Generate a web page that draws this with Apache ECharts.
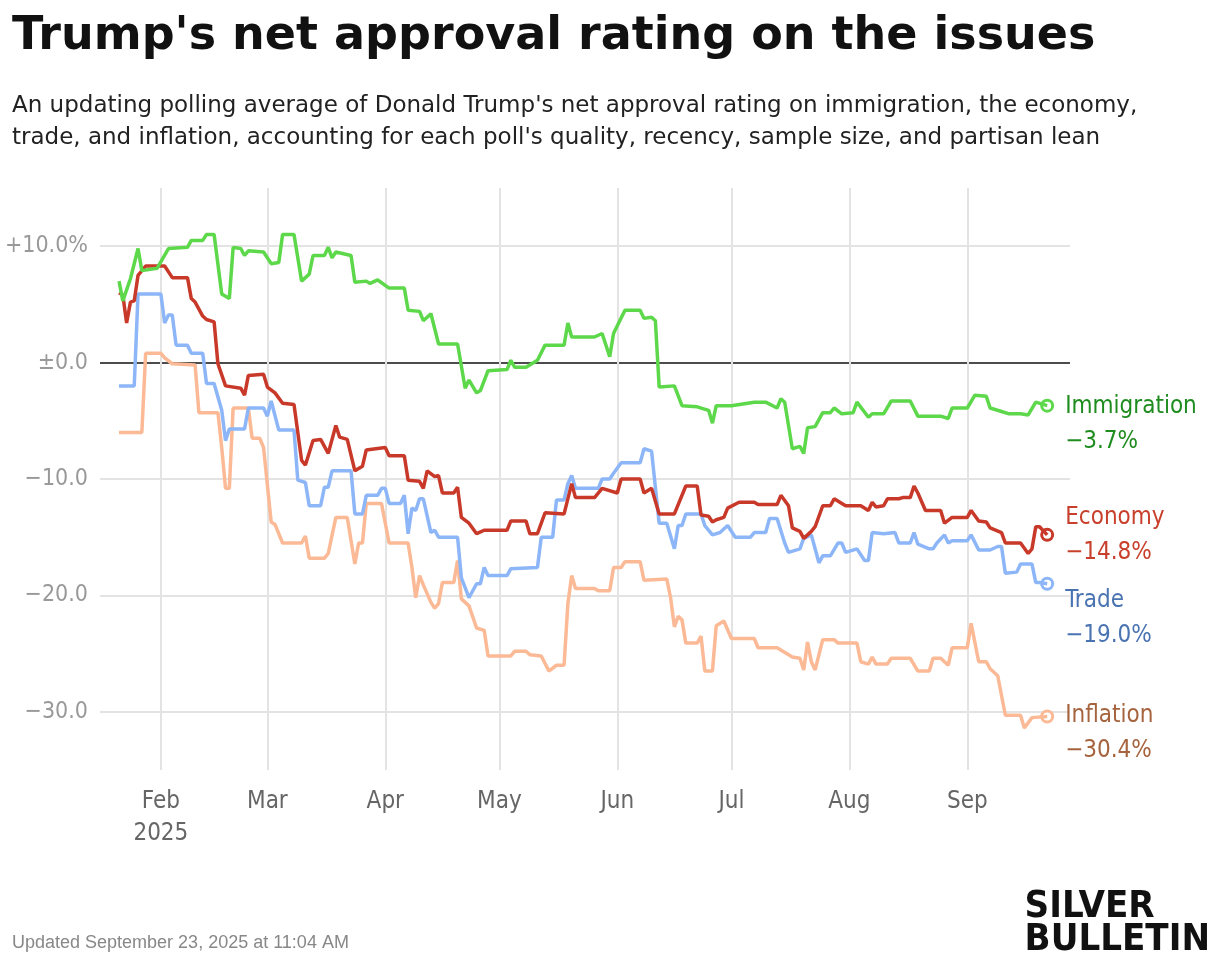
<!DOCTYPE html>
<html>
<head>
<meta charset="utf-8">
<script src="https://cdn.jsdelivr.net/npm/echarts@6/dist/echarts.min.js"></script>
<style>
  html, body { margin: 0; padding: 0; background: #fff; }
  #chartBox { width: 1220px; height: 966px; }
</style>
</head>
<body>
<div id="chartBox"></div>
<script>
// day of year 2025 (Jan 1 = 1) and net approval values
var immDays = [21,22,24,26,27,31,34,39,40,43,44,46,48,50,51,53,54,55,59,61,63,64,67,69,71,72,75,76,77,78,82,83,86,87,89,92,96,97,100,101,103,105,110,112,113,115,116,118,123,124,125,128,131,133,138,139,140,146,148,150,151,154,158,159,161,162,163,167,169,173,176,177,178,180,182,188,191,194,195,196,198,200,201,202,204,206,208,209,211,214,215,218,219,222,224,229,231,237,239,240,244,246,249,250,253,255,258,260,262,265];
var immVals = [7.0,5.3,7.2,9.8,7.9,8.1,9.8,9.9,10.5,10.5,11.0,11.0,5.9,5.5,9.9,9.8,9.2,9.6,9.5,8.5,8.6,11.0,11.0,7.0,7.6,9.2,9.2,9.9,9.0,9.5,9.2,6.9,7.0,6.8,7.1,6.4,6.4,4.5,4.4,3.6,4.2,1.6,1.6,-2.2,-1.5,-2.6,-2.4,-0.7,-0.6,0.2,-0.4,-0.4,0.2,1.5,1.5,3.4,2.2,2.2,2.5,0.5,2.5,4.5,4.5,3.8,3.9,3.6,-2.1,-2.0,-3.7,-3.8,-4.1,-5.2,-3.7,-3.7,-3.7,-3.4,-3.4,-3.9,-3.1,-3.4,-7.4,-7.2,-7.8,-5.6,-5.5,-4.3,-4.3,-3.9,-4.4,-4.3,-3.4,-4.7,-4.4,-4.4,-3.3,-3.3,-4.6,-4.6,-4.8,-3.9,-3.9,-2.8,-2.9,-3.9,-4.2,-4.4,-4.4,-4.5,-3.4,-3.7];

var ecoDays = [21,22,23,24,25,26,28,33,35,39,40,41,43,44,46,47,49,53,54,55,59,60,62,64,67,69,70,72,74,76,78,79,81,83,85,86,91,92,96,97,100,101,102,104,105,106,109,110,111,113,115,117,123,124,128,129,131,133,138,140,141,146,148,152,153,158,159,161,163,167,170,173,174,176,177,178,180,181,184,188,189,194,195,197,198,200,201,203,204,206,208,209,212,216,218,219,220,222,223,226,227,229,230,231,233,237,238,240,244,245,247,249,250,253,254,258,260,261,262,263,265];
var ecoVals = [6.0,5.8,3.4,5.2,5.3,7.5,8.3,8.3,7.3,7.3,5.5,5.2,4.0,3.7,3.5,-0.1,-2.0,-2.2,-2.8,-1.1,-1.0,-2.1,-2.6,-3.5,-3.6,-8.4,-8.8,-6.7,-6.6,-7.8,-5.4,-6.4,-6.6,-9.3,-8.9,-7.5,-7.3,-8.0,-8.0,-10.1,-10.2,-10.8,-9.3,-9.8,-9.7,-11.2,-11.2,-10.7,-13.3,-13.8,-14.7,-14.4,-14.4,-13.6,-13.6,-14.7,-14.7,-12.9,-13.0,-10.4,-11.6,-11.6,-10.8,-11.2,-10.0,-10.0,-11.2,-10.8,-13.0,-13.0,-10.6,-10.6,-13.1,-13.2,-13.7,-13.5,-13.3,-12.5,-12.0,-12.0,-12.2,-12.2,-11.4,-12.3,-14.2,-14.5,-15.1,-14.5,-14.1,-12.3,-12.3,-11.7,-12.3,-12.3,-12.7,-12.0,-12.4,-12.3,-11.7,-11.7,-11.6,-11.6,-10.6,-11.2,-12.7,-12.7,-13.8,-13.3,-13.3,-12.7,-13.6,-13.7,-14.2,-14.6,-15.5,-15.5,-16.4,-16.0,-14.1,-14.1,-14.8];

var trdDays = [21,25,26,32,33,34,35,36,39,40,43,44,46,48,49,50,54,55,59,60,61,63,67,68,70,71,74,75,76,77,82,83,85,86,89,90,91,92,95,96,97,98,99,100,101,103,104,105,110,111,113,115,116,117,118,123,124,131,132,135,136,138,139,140,141,147,148,150,151,153,158,159,161,163,165,167,168,169,170,174,175,177,179,181,183,187,188,191,192,194,196,197,200,201,203,205,206,208,210,211,212,215,217,218,219,222,225,226,229,230,231,234,235,236,238,239,240,244,245,247,250,252,253,254,257,258,261,262,263,265];
var trdVals = [-2.0,-2.0,5.9,5.9,3.4,4.1,4.1,1.5,1.5,0.8,0.8,-1.8,-1.8,-4.1,-6.7,-5.7,-5.7,-3.9,-3.9,-4.6,-3.3,-5.8,-5.8,-10.1,-10.3,-12.3,-12.3,-10.7,-10.7,-9.3,-9.3,-13.0,-13.0,-11.4,-11.4,-10.8,-10.8,-12.1,-12.1,-11.4,-14.7,-12.5,-12.7,-11.7,-11.7,-14.6,-14.4,-15.0,-15.0,-18.5,-20.2,-19.0,-19.0,-17.6,-18.3,-18.3,-17.7,-17.6,-15.0,-15.0,-11.8,-11.8,-10.4,-9.7,-10.8,-10.8,-10.0,-10.0,-9.5,-8.6,-8.6,-7.4,-7.6,-13.8,-13.8,-16.0,-14.0,-14.0,-13.0,-13.0,-14.0,-14.8,-14.6,-14.0,-15.0,-15.0,-14.6,-14.6,-13.4,-13.4,-15.5,-16.3,-16.0,-15.1,-14.8,-17.2,-16.6,-16.6,-15.5,-15.5,-16.3,-16.0,-17.0,-17.0,-14.6,-14.7,-14.6,-15.5,-15.5,-14.6,-15.6,-16.0,-16.0,-15.5,-14.8,-15.5,-15.3,-15.3,-14.8,-16.1,-16.1,-15.8,-15.8,-18.1,-18.0,-17.3,-17.3,-18.9,-18.9,-19.0];

var infDays = [21,27,28,32,33,35,41,42,47,48,49,50,51,55,56,58,59,61,62,64,69,70,71,75,76,78,81,83,84,85,86,90,92,97,98,99,100,101,103,104,105,106,109,110,111,113,115,117,118,124,125,128,129,132,134,136,138,139,140,141,146,147,150,151,153,154,158,159,165,166,167,168,169,170,173,174,175,177,178,180,182,188,189,194,198,200,201,202,203,204,206,209,210,215,216,218,219,220,223,224,229,231,234,235,237,239,240,244,245,247,249,250,252,254,258,259,261,265];
var infVals = [-6.0,-6.0,0.8,0.8,0.4,-0.1,-0.2,-4.3,-4.3,-7.3,-10.8,-10.8,-3.9,-3.9,-6.5,-6.5,-7.3,-13.7,-13.9,-15.5,-15.5,-14.9,-16.8,-16.8,-16.4,-13.3,-13.3,-17.3,-15.5,-15.5,-12.1,-12.1,-15.5,-15.5,-17.6,-20.2,-18.3,-19.1,-20.6,-21.1,-20.7,-18.9,-18.9,-17.0,-20.3,-20.9,-22.8,-23.0,-25.2,-25.2,-24.8,-24.8,-25.1,-25.2,-26.5,-26.0,-26.0,-20.7,-18.3,-19.4,-19.4,-19.6,-19.6,-17.6,-17.6,-17.1,-17.1,-18.7,-18.6,-20.2,-22.7,-21.8,-22.1,-24.1,-24.1,-23.5,-26.5,-26.5,-22.6,-22.2,-23.7,-23.7,-24.5,-24.5,-25.3,-25.4,-26.4,-24.0,-25.7,-26.4,-23.8,-23.8,-24.1,-24.1,-25.7,-25.9,-25.3,-25.9,-25.9,-25.4,-25.4,-26.5,-26.5,-25.4,-25.4,-26.0,-24.5,-24.5,-22.4,-25.7,-25.7,-26.3,-26.9,-30.3,-30.3,-31.4,-30.5,-30.4];

var seriesNames = ['Immigration', 'Economy', 'Trade', 'Inflation'];
var monthNames = ['Feb', 'Mar', 'Apr', 'May', 'Jun', 'Jul', 'Aug', 'Sep'];
var yTicks = [10, 0, -10, -20, -30];

(function(){
    var _font = '"Liberation Sans Narrow", "DejaVu Sans Condensed", "Roboto", sans-serif';
    var _lineColors = ['#5dd84a', '#c8392a', '#8cb6f8', '#fbb995'],
        _labelColors = ['#1f8c1f', '#c8402c', '#4a73b2', '#a5643e'],
        _labelOffset = [19, 0, 35, 17];

    // day of year for the first of each month
    function monthDoy(_i){
        return Math.round((Date.UTC(2025, _i + 1, 1) - Date.UTC(2025, 0, 1)) / 86400000) + 1;
    }
    var _monthDays = monthNames.map(function(_m, i){ return monthDoy(i); });

    function pairs(_days, _vals){
        var _list = [];
        for(var i = 0; i < _days.length; i++){
            _list.push([_days[i], _vals[i]]);
        }
        return _list;
    }

    function fmtNum(_v){
        var _s = Math.abs(_v).toFixed(1);
        if(_v > 0) return '+' + _s;
        if(_v < 0) return '\u2212' + _s;
        return '\u00b1' + _s;
    }

    var _allData = [pairs(immDays, immVals), pairs(ecoDays, ecoVals), pairs(trdDays, trdVals), pairs(infDays, infVals)];

    var _series = _allData.map(function(_data, i){
        return {
            name: seriesNames[i],
            type: 'line',
            data: _data,
            z: 10 - i,
            showSymbol: false,
            symbol: 'none',
            lineStyle: { color: _lineColors[i], width: 3.5 },
            itemStyle: { color: _lineColors[i] },
            animation: false,
            endLabel: {
                show: true,
                distance: 18,
                offset: [0, _labelOffset[i]],
                formatter: function(_p){
                    return '{n|' + _p.seriesName + '}\n{v|' + fmtNum(_p.value[1]) + '%}';
                },
                rich: {
                    n: { fontFamily: _font, fontSize: 24, color: _labelColors[i], lineHeight: 35 },
                    v: { fontFamily: _font, fontSize: 24, color: _labelColors[i], lineHeight: 35 }
                }
            },
            markPoint: {
                symbol: 'circle',
                symbolSize: 11,
                label: { show: false },
                itemStyle: { color: '#fff', borderColor: _lineColors[i], borderWidth: 3 },
                data: [{ coord: _data[_data.length - 1] }]
            }
        };
    });

    // grid lines
    _series.push({
        type: 'line',
        data: [],
        silent: true,
        z: 1,
        markLine: {
            symbol: 'none',
            label: { show: false },
            animation: false,
            data: yTicks.map(function(_v){
                return { yAxis: _v, lineStyle: { color: _v === 0 ? '#111' : '#e3e3e3', width: _v === 0 ? 1.5 : 2, type: 'solid' } };
            }).concat(_monthDays.map(function(_d){
                return { xAxis: _d, lineStyle: { color: '#e3e3e3', width: 2, type: 'solid' } };
            }))
        }
    });

    var _chart = echarts.init(document.getElementById('chartBox'));
    _chart.setOption({
        backgroundColor: '#fff',
        animation: false,
        grid: { left: 100, right: 150, top: 188, bottom: 196 },
        xAxis: {
            type: 'value',
            min: 16,
            max: 271,
            axisLine: { show: false },
            axisTick: { show: false },
            splitLine: { show: false },
            axisLabel: {
                customValues: _monthDays,
                fontFamily: _font,
                fontSize: 24,
                color: '#666',
                margin: 16,
                lineHeight: 32,
                formatter: function(_v){
                    var _i = _monthDays.indexOf(_v);
                    return _i === 0 ? 'Feb\n2025' : monthNames[_i];
                }
            }
        },
        yAxis: {
            type: 'value',
            min: -35,
            max: 15,
            interval: 5,
            axisLine: { show: false },
            axisTick: { show: false },
            splitLine: { show: false },
            axisLabel: {
                fontFamily: _font,
                fontSize: 23,
                color: '#999',
                margin: 12,
                formatter: function(_v){
                    if(yTicks.indexOf(_v) < 0) return '';
                    return _v === 10 ? '+10.0%' : fmtNum(_v);
                }
            }
        },
        series: _series,
        graphic: [
            { type: 'text', left: 12, top: 14, style: { text: "Trump's net approval rating on the issues", font: 'bold 46px "DejaVu Sans", sans-serif', fill: '#111' } },
            { type: 'text', left: 12, top: 90, style: { text: "An updating polling average of Donald Trump's net approval rating on immigration, the economy,\ntrade, and inflation, accounting for each poll's quality, recency, sample size, and partisan lean", font: '23px "DejaVu Sans", sans-serif', lineHeight: 32, fill: '#222' } },
            { type: 'text', left: 12, top: 934, style: { text: 'Updated September 23, 2025 at 11:04 AM', font: '18px "Liberation Sans", sans-serif', fill: '#888' } },
            { type: 'text', right: 10, top: 888, style: { text: 'SILVER\nBULLETIN', font: 'bold 38px "DejaVu Sans Condensed", "Liberation Sans Narrow", sans-serif', lineHeight: 33, fill: '#111', align: 'right' } }
        ]
    });
})();
</script>
</body>
</html>
